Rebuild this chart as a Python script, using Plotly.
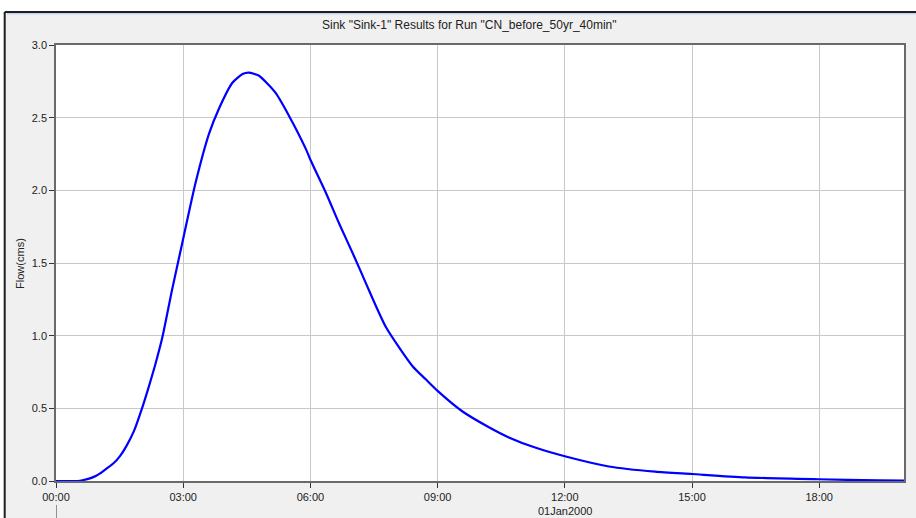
import plotly.graph_objects as go

# Time in hours since 01Jan2000 00:00, flow in cms
hours = [0.0, 0.5, 0.65, 0.8, 0.96, 1.05, 1.19, 1.35, 1.5, 1.65, 1.84, 2.04, 2.2,
         2.35, 2.51, 2.74, 2.98, 3.29, 3.61, 3.84, 4.16, 4.4, 4.55, 4.78, 5.0, 5.18,
         5.5, 5.9, 6.0, 6.37, 6.68, 7.04, 7.31, 7.78, 8.41, 8.72, 9.0, 9.58, 10.21,
         10.68, 11.3, 12.0, 13.04, 14.13, 15.0, 16.25, 17.98, 19.4, 20.0]
flow = [0.0, 0.0, 0.007, 0.018, 0.038, 0.054, 0.085, 0.12, 0.168, 0.235, 0.345, 0.51, 0.66,
        0.81, 0.99, 1.32, 1.64, 2.05, 2.39, 2.56, 2.74, 2.8, 2.81, 2.79, 2.73, 2.67,
        2.51, 2.28, 2.21, 1.98, 1.77, 1.54, 1.36, 1.06, 0.79, 0.70, 0.62, 0.48, 0.37,
        0.30, 0.23, 0.17, 0.10, 0.064, 0.048, 0.025, 0.012, 0.004, 0.002]

x_tickvals = [0, 3, 6, 9, 12, 15, 18]
x_ticktext = ["00:00", "03:00", "06:00", "09:00", "12:00", "15:00", "18:00"]
y_tickvals = [0.0, 0.5, 1.0, 1.5, 2.0, 2.5, 3.0]

title_text = 'Sink "Sink-1" Results for Run "CN_before_50yr_40min"'
date_label = "01Jan2000"
y_title = "Flow(cms)"

FONT = "Liberation Sans, Arial, sans-serif"

fig = go.Figure()
fig.add_trace(go.Scatter(x=hours, y=flow, mode="lines",
                         line=dict(color="#0000ff", width=2.2, shape="spline", smoothing=0.6),
                         showlegend=False, hoverinfo="skip"))

axis_common = dict(
    showgrid=True, gridcolor="#c8c8c8", gridwidth=1,
    zeroline=False, showline=True, linecolor="#6a6a6a", linewidth=1.5,
    mirror=True, ticks="outside", ticklen=5, tickcolor="#333333",
    tickfont=dict(family=FONT, size=11, color="#222222"),
)

fig.update_xaxes(range=[0, 20], tickmode="array", tickvals=x_tickvals,
                 ticktext=x_ticktext, **axis_common)
fig.update_yaxes(range=[0, 3], tickmode="array", tickvals=y_tickvals,
                 tickformat=".1f", **axis_common)

shapes = [
    # white band above frame
    dict(type="rect", xref="paper", yref="paper", x0=-0.2, x1=1.2, y0=1.0757, y1=1.2,
         fillcolor="white", line=dict(width=0), layer="below"),
    # white band left of frame
    dict(type="rect", xref="paper", yref="paper", x0=-0.2, x1=-0.0605, y0=-0.2, y1=1.2,
         fillcolor="white", line=dict(width=0), layer="below"),
    # frame top dark line
    dict(type="line", xref="paper", yref="paper", x0=-0.0605, x1=1.2, y0=1.0757, y1=1.0757,
         line=dict(color="#1e1e1e", width=2)),
    # light blue line under top
    dict(type="line", xref="paper", yref="paper", x0=-0.058, x1=1.2, y0=1.0715, y1=1.0715,
         line=dict(color="#aac8e6", width=1)),
    # frame left dark line
    dict(type="line", xref="paper", yref="paper", x0=-0.0605, x1=-0.0605, y0=-0.2, y1=1.0757,
         line=dict(color="#1e1e1e", width=2)),
    # day boundary marker below axis
    dict(type="line", xref="x", yref="paper", x0=0, x1=0, y0=-0.055, y1=-0.09,
         line=dict(color="#333333", width=1)),
]

annotations = [
    dict(text=title_text, xref="paper", yref="paper", x=0.488, y=1.046,
         showarrow=False, xanchor="center", yanchor="middle",
         font=dict(family=FONT, size=12, color="#222222")),
    dict(text=date_label, xref="x", yref="paper", x=12, y=-0.069,
         showarrow=False, xanchor="center", yanchor="middle",
         font=dict(family=FONT, size=11, color="#222222")),
    dict(text=y_title, xref="paper", yref="paper", x=-0.0424, y=0.498,
         showarrow=False, xanchor="center", yanchor="middle", textangle=-90,
         font=dict(family=FONT, size=11, color="#222222")),
]

fig.update_layout(
    width=916, height=518,
    margin=dict(l=56, r=10, t=45, b=37, pad=0),
    paper_bgcolor="#f0f0f0", plot_bgcolor="white",
    shapes=shapes, annotations=annotations,
    font=dict(family=FONT, size=11, color="#222222"),
)

fig.write_html("out.html", config={"displayModeBar": False},
               post_script="document.body.style.margin='0px';document.body.style.padding='0px';document.body.style.overflow='hidden';")
